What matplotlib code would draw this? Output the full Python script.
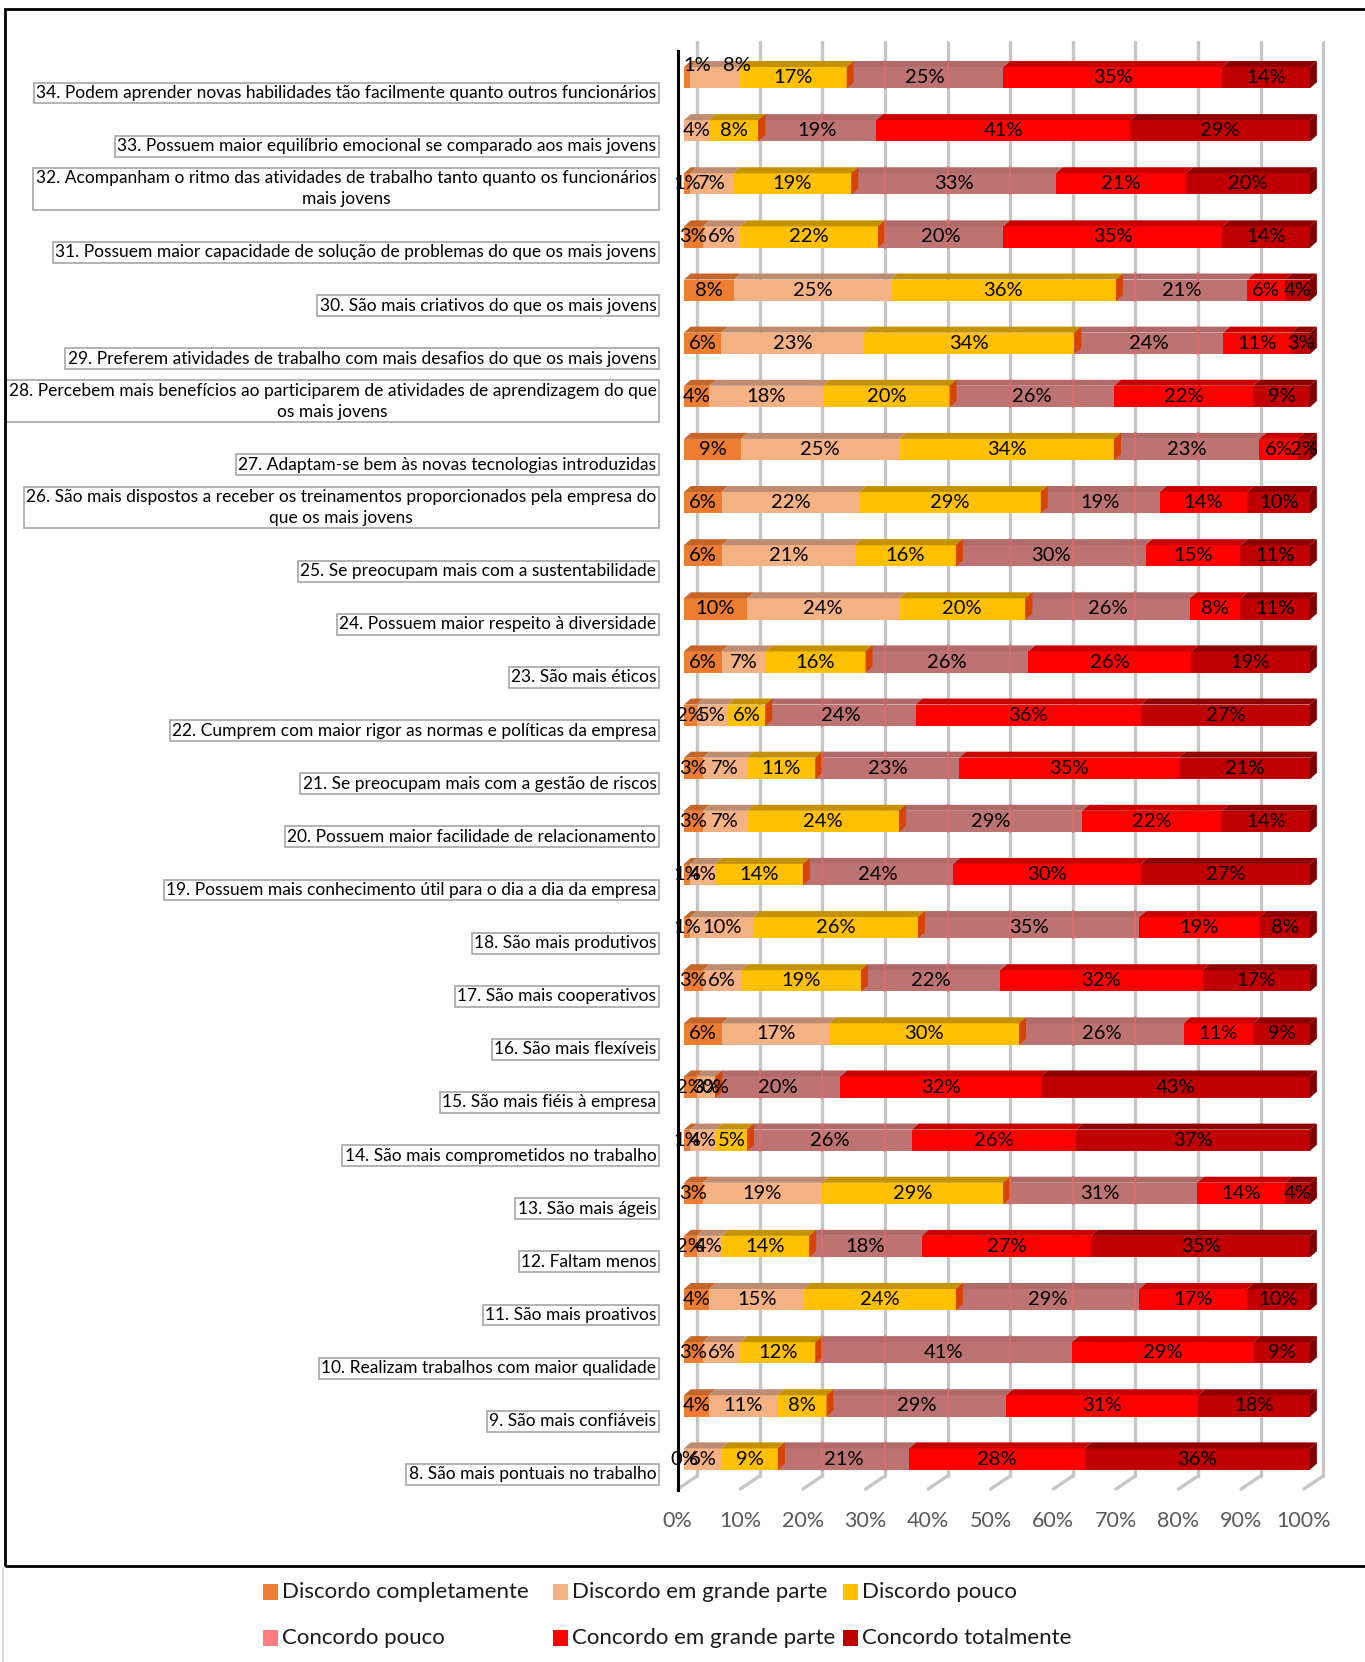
import numpy as np
import matplotlib.pyplot as plt
from matplotlib.patches import Polygon, Rectangle
from matplotlib.lines import Line2D

plt.rcParams['font.family'] = ['Lato', 'DejaVu Sans']

# statements, top to bottom as in the chart
items = [
    '34. Podem aprender novas habilidades tão facilmente quanto outros funcionários',
    '33. Possuem maior equilíbrio emocional se comparado aos mais jovens',
    '32. Acompanham o ritmo das atividades de trabalho tanto quanto os funcionários\nmais jovens',
    '31. Possuem maior capacidade de solução de problemas do que os mais jovens',
    '30. São mais criativos do que os mais jovens',
    '29. Preferem atividades de trabalho com mais desafios do que os mais jovens',
    '28. Percebem mais benefícios ao participarem de atividades de aprendizagem do que\nos mais jovens',
    '27. Adaptam-se bem às novas tecnologias introduzidas',
    '26. São mais dispostos a receber os treinamentos proporcionados pela empresa do\nque os mais jovens',
    '25. Se preocupam mais com a sustentabilidade',
    '24. Possuem maior respeito à diversidade',
    '23. São mais éticos',
    '22. Cumprem com maior rigor as normas e políticas da empresa',
    '21. Se preocupam mais com a gestão de riscos',
    '20. Possuem maior facilidade de relacionamento',
    '19. Possuem mais conhecimento útil para o dia a dia da empresa',
    '18. São mais produtivos',
    '17. São mais cooperativos',
    '16. São mais flexíveis',
    '15. São mais fiéis à empresa',
    '14. São mais comprometidos no trabalho',
    '13. São mais ágeis',
    '12. Faltam menos',
    '11. São mais proativos',
    '10. Realizam trabalhos com maior qualidade',
    '9. São mais confiáveis',
    '8. São mais pontuais no trabalho',
]

series = ['Discordo completamente', 'Discordo em grande parte', 'Discordo pouco',
          'Concordo pouco', 'Concordo em grande parte', 'Concordo totalmente']

# percentages per statement (same order as items)
dc = [1, np.nan, 1, 3, 8, 6, 4, 9, 6, 6, 10, 6, 2, 3, 3, 1, 1, 3, 6, 2, 1, 3, 2, 4, 3, 4, 0]
dgp = [8, 4, 7, 6, 25, 23, 18, 25, 22, 21, 24, 7, 5, 7, 7, 4, 10, 6, 17, 3, 4, 19, 4, 15, 6, 11, 6]
dp = [17, 8, 19, 22, 36, 34, 20, 34, 29, 16, 20, 16, 6, 11, 24, 14, 26, 19, 30, 0, 5, 29, 14, 24, 12, 8, 9]
cp = [25, 19, 33, 20, 21, 24, 26, 23, 19, 30, 26, 26, 24, 23, 29, 24, 35, 22, 26, 20, 26, 31, 18, 29, 41, 29, 21]
cgp = [35, 41, 21, 35, 6, 11, 22, 6, 14, 15, 8, 26, 36, 35, 22, 30, 19, 32, 11, 32, 26, 14, 27, 17, 29, 31, 28]
ct = [14, 29, 20, 14, 4, 3, 9, 2, 10, 11, 11, 19, 27, 21, 14, 27, 8, 17, 9, 43, 37, 4, 35, 10, 9, 18, 36]

tick_vals = [0, 10, 20, 30, 40, 50, 60, 70, 80, 90, 100]

legend_colors = ['#ED7D31', '#F4B183', '#FFC000', '#FF7C80', '#FF0000', '#C00000']
front_colors = ['#ED7D31', '#F4B183', '#FFC000', '#BE7373', '#FF0000', '#C00000']
top_colors = ['#C4662A', '#BE8C70', '#C49200', '#B06A6A', '#C80000', '#8E0000']
side_colors = {2: '#D84400', 5: '#7E0000'}

W, H = 1365, 1662
fig = plt.figure(figsize=(W / 100, H / 100), dpi=100)
fig.patch.set_facecolor('white')

# axes placed so that bar 0..100 spans pixels 684..1310
ax = fig.add_axes([665.2 / W, 1 - 1496.2 / H, 676.1 / W, 1461.1 / H])
ax.set_xlim(-3, 105)
ax.set_ylim(-0.7, 26.8)
for s in ax.spines.values():
    s.set_visible(False)
ax.set_yticks([])

n = len(items)
ypos = np.arange(n)[::-1]
data = np.nan_to_num(np.array([dc, dgp, dp, cp, cgp, ct], dtype=float))
widths = data / data.sum(axis=0) * 100
lefts = np.vstack([np.zeros(n), np.cumsum(widths, axis=0)[:-1]])

h = 0.4
dx, dy = 1.1, 0.113
grid_off = 2.1

# back wall gridlines + floor
for t in tick_vals:
    gx = t + grid_off
    ax.plot([gx, gx], [-0.32, 26.67], color='#c6c6c6', lw=2.4, zorder=0, solid_capstyle='round')
    ax.plot([gx, t - 1], [-0.32, -0.565], color='#c6c6c6', lw=2.4, zorder=0, solid_capstyle='round')
ax.plot([-1, -1], [-0.58, 26.5], color='black', lw=2.2, zorder=1)

ax.set_xticks([t - 1 for t in tick_vals])
ax.set_xticklabels([f'{t}%' for t in tick_vals], fontsize=15.5, color='#595959')
ax.tick_params(axis='x', length=0, pad=11)

for j in range(6):
    ax.barh(ypos, widths[j], left=lefts[j], height=h, color=front_colors[j], zorder=3)
    for i in range(n):
        l, w, y = lefts[j][i], widths[j][i], ypos[i]
        top = y + h / 2
        ax.add_patch(Polygon([(l, top), (l + w, top), (l + w + dx, top + dy), (l + dx, top + dy)],
                             closed=True, fc=top_colors[j], ec='none', zorder=3))
        if j in side_colors:
            xe = l + w
            ax.add_patch(Polygon([(xe, y - h / 2), (xe, top), (xe + dx, top + dy), (xe + dx, y - h / 2 + dy)],
                                 closed=True, fc=side_colors[j], ec='none', zorder=4))
        if j == 3:
            # gridlines showing through the translucent segment
            for t in tick_vals:
                gx = t + grid_off
                if l + 0.5 < gx < l + w - 0.5:
                    ax.plot([gx, gx], [y - h / 2, top + dy], color='#E86A6A', lw=1.4,
                            alpha=0.7, zorder=4)

# value labels
nudge = {(0, 0): (1.6, 0.23), (0, 1): (3.5, 0.23)}
raw = np.array([dc, dgp, dp, cp, cgp, ct], dtype=float)
for j in range(6):
    for i in range(n):
        v = raw[j][i]
        if np.isnan(v):
            continue
        ox, oy = nudge.get((i, j), (0, 0))
        ax.text(lefts[j][i] + widths[j][i] / 2 + ox, ypos[i] + oy, f'{int(v)}%',
                ha='center', va='center', fontsize=14.5, color='black', zorder=6)

# category labels in boxes
for i in range(n):
    ax.text(-4.4, ypos[i] - 0.44, items[i], ha='right', va='bottom', multialignment='center',
            fontsize=12.5, linespacing=1.38, color='black', zorder=6,
            bbox=dict(boxstyle='square,pad=0.14', fc='white', ec='#a6a6a6', lw=1.2))

# outer frame
fig.add_artist(Rectangle((5 / W, 1 - 1566 / H), 2, 1557 / H, fill=False, ec='black', lw=2,
                         transform=fig.transFigure))
fig.add_artist(Line2D([3 / W, 3 / W], [0, 1 - 1568 / H], color='#d9d9d9', lw=1.5,
                      transform=fig.transFigure))

# legend, laid out row by row
col_x = [263, 553, 843]
row_y = [1592, 1638]
for k, name in enumerate(series):
    x0, y0 = col_x[k % 3], row_y[k // 3]
    fig.add_artist(Rectangle((x0 / W, 1 - (y0 + 8) / H), 15 / W, 16 / H, fc=legend_colors[k], ec='none',
                             transform=fig.transFigure))
    fig.text((x0 + 19) / W, 1 - y0 / H, name, ha='left', va='center', fontsize=16, color='#1a1a1a')

fig.savefig('out.png', dpi=100)
